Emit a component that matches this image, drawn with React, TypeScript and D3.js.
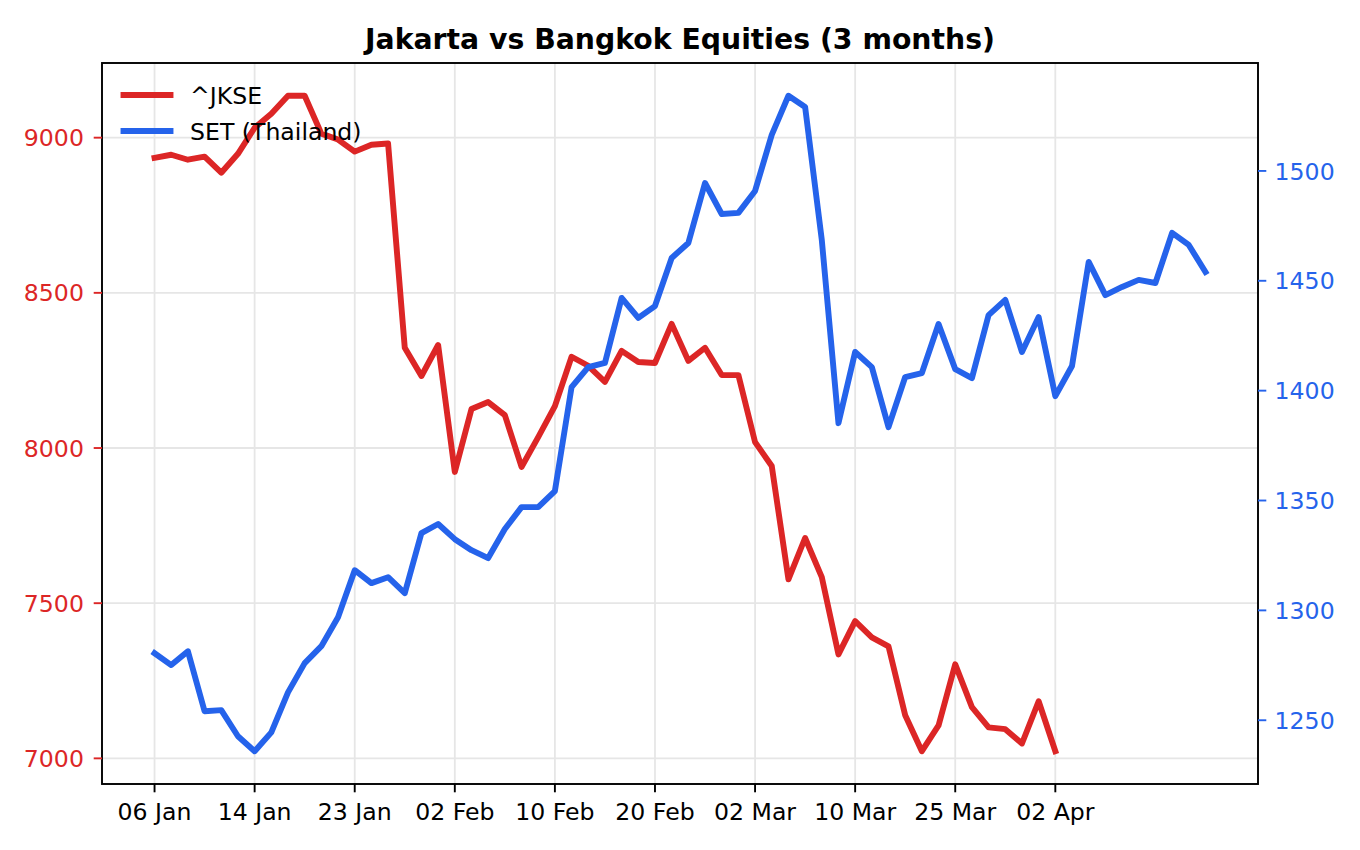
import React from "react";
import * as d3 from "d3";

const jkse: number[] = [
  8935, 8945, 8929, 8939, 8887, 8948, 9032, 9077, 9135, 9135,
  9013, 8994, 8955, 8977, 8981, 8323, 8232, 8332, 7923, 8126,
  8148, 8106, 7939, 8035, 8135, 8294, 8265, 8213, 8313, 8277,
  8274, 8400, 8281, 8323, 8235, 8235, 8019, 7942, 7577, 7710,
  7584, 7335, 7442, 7390, 7361, 7139, 7023, 7106, 7303, 7165,
  7100, 7094, 7048, 7184, 7023,
];

const setThai: number[] = [
  1280.5, 1275.1, 1281.4, 1254.1, 1254.6, 1242.7, 1235.9, 1244.5, 1262.7, 1276.0,
  1283.7, 1296.9, 1318.3, 1312.4, 1315.1, 1307.8, 1335.2, 1339.3, 1332.4, 1327.4,
  1323.8, 1337.0, 1347.0, 1347.0, 1354.3, 1401.6, 1410.7, 1412.6, 1442.2, 1433.1,
  1438.5, 1460.4, 1467.2, 1494.5, 1480.4, 1480.9, 1490.9, 1516.4, 1534.2, 1529.1,
  1468.6, 1385.2, 1417.6, 1410.7, 1383.4, 1406.2, 1408.0, 1430.3, 1409.8, 1405.7,
  1434.4, 1441.3, 1417.6, 1433.5, 1397.5, 1411.2, 1458.6, 1443.5, 1447.2, 1450.4,
  1449.0, 1471.8, 1466.3, 1454.0,
];

const xTickIndex: number[] = [0, 6, 12, 18, 24, 30, 36, 42, 48, 54];
const xTickLabels: string[] = [
  "06 Jan", "14 Jan", "23 Jan", "02 Feb", "10 Feb",
  "20 Feb", "02 Mar", "10 Mar", "25 Mar", "02 Apr",
];

const seriesNames = ["^JKSE", "SET (Thailand)"];
const RED = "#dc2626";
const BLUE = "#2563eb";
const FONT = "DejaVu Sans";

const W = 1360;
const H = 850;
const L = 102;
const R = 1258;
const T = 63;
const B = 784;

function padded(vals: number[]): [number, number] {
  const [mn, mx] = d3.extent(vals) as [number, number];
  const p = (mx - mn) * 0.05;
  return [mn - p, mx + p];
}

export default function App() {
  const n = Math.max(jkse.length, setThai.length) - 1;
  const x = d3.scaleLinear().domain([-0.05 * n, n * 1.05]).range([L, R]);
  const yL = d3.scaleLinear().domain(padded(jkse)).range([B, T]);
  const yR = d3.scaleLinear().domain(padded(setThai)).range([B, T]);

  const lineL = d3.line<number>().x((_, i) => x(i)).y((d) => yL(d));
  const lineR = d3.line<number>().x((_, i) => x(i)).y((d) => yR(d));

  const leftTicks = yL.ticks(5);
  const rightTicks = yR.ticks(6);
  const tickLen = 8.3;
  const fs = 23.6;

  return (
    <div style={{ position: "absolute", left: 0, top: 0 }}>
      <svg width={W} height={H} style={{ display: "block", background: "#fff" }} fontFamily={FONT}>
        <rect x={0} y={0} width={W} height={H} fill="#fff" />
        {/* grid */}
        <g stroke="#e6e6e6" strokeWidth={1.8}>
          {xTickIndex.map((t) => (
            <line key={"gx" + t} x1={x(t)} x2={x(t)} y1={T} y2={B} />
          ))}
          {leftTicks.map((t) => (
            <line key={"gy" + t} x1={L} x2={R} y1={yL(t)} y2={yL(t)} />
          ))}
        </g>
        {/* lines */}
        <path d={lineL(jkse) || ""} fill="none" stroke={RED} strokeWidth={5.9}
          strokeLinejoin="round" strokeLinecap="square" />
        <path d={lineR(setThai) || ""} fill="none" stroke={BLUE} strokeWidth={5.9}
          strokeLinejoin="round" strokeLinecap="square" />
        {/* frame */}
        <rect x={L} y={T} width={R - L} height={B - T} fill="none" stroke="#000" strokeWidth={1.9} />
        {/* left axis */}
        {leftTicks.map((t) => (
          <g key={"lt" + t}>
            <line x1={L - tickLen} x2={L} y1={yL(t)} y2={yL(t)} stroke={RED} strokeWidth={1.9} />
            <text x={L - tickLen - 8.3 - 1.5} y={yL(t) + 8.6} fontSize={fs} fill={RED} textAnchor="end">
              {t}
            </text>
          </g>
        ))}
        {/* right axis */}
        {rightTicks.map((t) => (
          <g key={"rt" + t}>
            <line x1={R} x2={R + tickLen} y1={yR(t)} y2={yR(t)} stroke={BLUE} strokeWidth={1.9} />
            <text x={R + tickLen + 8.3} y={yR(t) + 8.6} fontSize={fs} fill={BLUE} textAnchor="start">
              {t}
            </text>
          </g>
        ))}
        {/* bottom axis */}
        {xTickIndex.map((t, i) => (
          <g key={"bt" + t}>
            <line x1={x(t)} x2={x(t)} y1={B} y2={B + tickLen} stroke="#000" strokeWidth={1.9} />
            <text x={x(t)} y={820} fontSize={fs} fill="#000" textAnchor="middle">
              {xTickLabels[i]}
            </text>
          </g>
        ))}
        {/* title */}
        <text x={(L + R) / 2} y={49} fontSize={28.3} fontWeight="bold" textAnchor="middle" fill="#000">
          Jakarta vs Bangkok Equities (3 months)
        </text>
        {/* legend */}
        <g>
          <line x1={123.5} x2={170.5} y1={95} y2={95} stroke={RED} strokeWidth={5.9} strokeLinecap="square" />
          <text x={190} y={104} fontSize={fs} fill="#000">{seriesNames[0]}</text>
          <line x1={123.5} x2={170.5} y1={131} y2={131} stroke={BLUE} strokeWidth={5.9} strokeLinecap="square" />
          <text x={190} y={140} fontSize={fs} fill="#000">{seriesNames[1]}</text>
        </g>
      </svg>
    </div>
  );
}
